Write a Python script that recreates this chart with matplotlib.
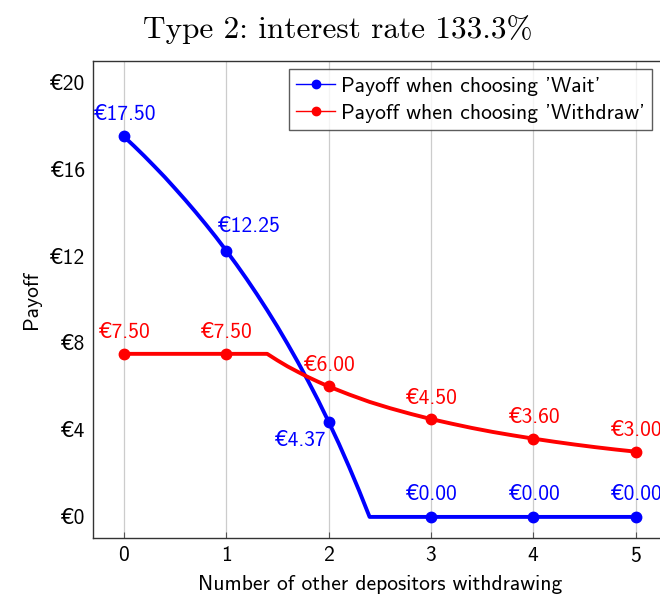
import matplotlib
matplotlib.use("Agg")
import matplotlib.pyplot as plt

# payoff curves
curve_x_wait = [0.0, 0.1, 0.2, 0.3, 0.4, 0.5, 0.6, 0.7, 0.8, 0.9, 1.0, 1.1, 1.2,
                1.3, 1.4, 1.5, 1.6, 1.7, 1.8, 1.9, 2.0, 2.1, 2.2, 2.3, 2.4, 3, 4, 5]
curve_y_wait = [17.5, 17.06, 16.60, 16.12, 15.63, 15.11, 14.58, 14.03, 13.46, 12.87,
                12.25, 11.61, 10.94, 10.24, 9.51, 8.75, 7.95, 7.12, 6.25, 5.34,
                4.375, 3.37, 2.30, 1.18, 0, 0, 0, 0]
curve_x_withdraw = [0, 1, 1.4, 1.5, 1.6, 1.7, 1.8, 1.9, 2.0, 2.2, 2.4, 2.6, 2.8, 3.0,
                    3.2, 3.4, 3.6, 3.8, 4.0, 4.2, 4.4, 4.6, 4.8, 5.0]
curve_y_withdraw = [7.5, 7.5, 7.5, 7.2, 6.92, 6.67, 6.43, 6.21, 6.0, 5.63, 5.29, 5.0,
                    4.74, 4.5, 4.29, 4.09, 3.91, 3.75, 3.6, 3.46, 3.33, 3.21, 3.10, 3.0]

# marked points
others = [0, 1, 2, 3, 4, 5]
wait_pts = [17.5, 12.25, 4.375, 0, 0, 0]
withdraw_pts = [7.5, 7.5, 6.0, 4.5, 3.6, 3.0]
wait_labels = ["€17.50", "€12.25", "€4.37", "€0.00", "€0.00", "€0.00"]
withdraw_labels = ["€7.50", "€7.50", "€6.00", "€4.50", "€3.60", "€3.00"]

yticks = [0, 4, 8, 12, 16, 20]
ytick_labels = ["€0", "€4", "€8", "€12", "€16", "€20"]

sans = ["cmss10", "DejaVu Sans"]
plt.rcParams["font.family"] = sans
plt.rcParams["axes.formatter.use_mathtext"] = True

fs = 15.5

fig = plt.figure(figsize=(6.6, 5.95), dpi=100)
ax = fig.add_axes([0.141, 0.0958, 0.869, 0.8017])

blue = "#0000ff"
red = "#ff0000"

ax.plot(curve_x_wait, curve_y_wait, color=blue, lw=2.8, zorder=3)
ax.plot(curve_x_withdraw, curve_y_withdraw, color=red, lw=2.8, zorder=3)
ax.plot(others, wait_pts, "o", color=blue, ms=7.5, zorder=4)
ax.plot(others, withdraw_pts, "o", color=red, ms=7.5, zorder=4)

# legend proxies
ax.plot([], [], "-o", color=blue, lw=1, ms=6, label="Payoff when choosing 'Wait'")
ax.plot([], [], "-o", color=red, lw=1, ms=6, label="Payoff when choosing 'Withdraw'")

# the far-right labels run off the figure edge, as in the original
wait_offsets = [(0, 22), (22, 24), (-29, -19), (0, 22), (0, 22), (0, 22)]
for (x, y, s), off in zip(zip(others, wait_pts, wait_labels), wait_offsets):
    ax.annotate(s, (x, y), xytext=off, textcoords="offset pixels",
                ha="center", va="center", color=blue, fontsize=fs)

for x, y, s in zip(others, withdraw_pts, withdraw_labels):
    ax.annotate(s, (x, y), xytext=(0, 21), textcoords="offset pixels",
                ha="center", va="center", color=red, fontsize=fs)

ax.set_xlim(-0.3, 5.3)
ax.set_ylim(-0.97, 20.97)
ax.set_xticks(others)
ax.set_yticks(yticks)
ax.set_yticklabels(ytick_labels)
ax.tick_params(axis="x", direction="in", length=4, color="#555555", labelsize=fs, pad=6)
ax.tick_params(axis="y", length=0, labelsize=fs, pad=6)
ax.grid(axis="x", color="#cccccc", lw=0.9)
ax.set_axisbelow(True)

ax.spines["right"].set_visible(False)
for side in ["left", "top", "bottom"]:
    ax.spines[side].set_color("#333333")
    ax.spines[side].set_linewidth(1.0)

ax.set_xlabel("Number of other depositors withdrawing", fontsize=fs, labelpad=6)
ax.set_ylabel("Payoff", fontsize=fs, labelpad=6)

leg = ax.legend(loc="upper left", bbox_to_anchor=(0.3415, 0.983), fontsize=fs,
                frameon=True, fancybox=False, edgecolor="#333333",
                handlelength=1.8, handletextpad=0.25, borderpad=0.35, labelspacing=0.38,
                borderaxespad=0)
leg.get_frame().set_linewidth(1.0)

fig.text(0.512, 0.95, "Type 2: interest rate 133.3%", family="cmr10",
         fontsize=22.5, ha="center", va="center")

fig.savefig("out.png", dpi=100)
